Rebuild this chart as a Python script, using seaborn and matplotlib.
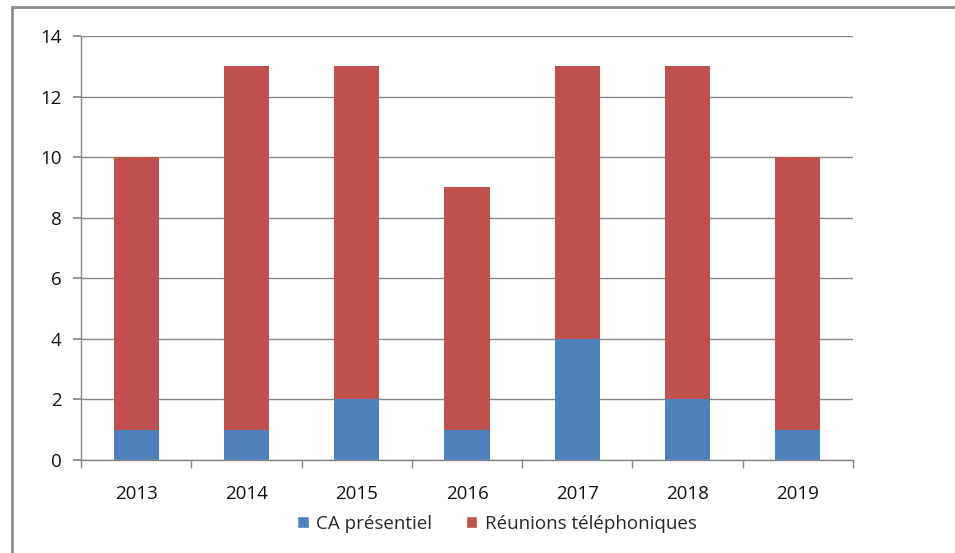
import matplotlib.pyplot as plt
import numpy as np
import pandas as pd
import seaborn as sns
from matplotlib.patches import Patch, Rectangle

YEARS = ["2013", "2014", "2015", "2016", "2017", "2018", "2019"]
CA_PRESENTIEL = [1, 1, 2, 1, 4, 2, 1]
REUNIONS_TEL = [9, 12, 11, 8, 9, 11, 9]
SERIES_NAMES = ["CA présentiel", "Réunions téléphoniques"]

BLUE = "#4F81BD"
RED = "#C0504D"
GRID = "#868686"


def main() -> None:
    sns.set_theme(style="white")
    plt.rcParams["font.family"] = ["Open Sans", "DejaVu Sans"]

    df = pd.DataFrame({"year": YEARS, "ca": CA_PRESENTIEL, "tel": REUNIONS_TEL})
    df["total"] = df["ca"] + df["tel"]

    fig = plt.figure(figsize=(9.55, 5.53), dpi=100)
    ax = fig.add_axes([81 / 955, 1 - 460 / 553, (853 - 81) / 955, (460 - 36) / 553])

    # stacked: full height in red, blue drawn over the bottom
    sns.barplot(data=df, x="year", y="total", color=RED, saturation=1, width=0.41,
                linewidth=0, ax=ax)
    sns.barplot(data=df, x="year", y="ca", color=BLUE, saturation=1, width=0.41,
                linewidth=0, ax=ax)

    ax.set_xlim(-0.5, len(YEARS) - 0.5)
    ax.set_ylim(0, 14)
    ax.set_yticks(np.arange(0, 15, 2))
    ax.set_xlabel("")
    ax.set_ylabel("")
    ax.yaxis.grid(True, color=GRID, linewidth=1)
    ax.set_axisbelow(True)

    for side in ("top", "right"):
        ax.spines[side].set_visible(False)
    for side in ("left", "bottom"):
        ax.spines[side].set_color(GRID)
        ax.spines[side].set_linewidth(1)

    ax.tick_params(axis="y", which="major", left=True, length=6, color=GRID,
                   labelsize=13.5, pad=8, labelcolor="#111111")
    ax.tick_params(axis="x", which="major", bottom=False, labelsize=13.5, pad=12,
                   labelcolor="#111111")
    ax.set_xticks(np.arange(-0.5, len(YEARS), 1), minor=True)
    ax.tick_params(axis="x", which="minor", bottom=True, length=6, color=GRID)

    handles = [Patch(facecolor=BLUE), Patch(facecolor=RED)]
    fig.legend(handles, SERIES_NAMES, loc="center", bbox_to_anchor=(497 / 955, 1 - 524 / 553),
               ncol=2, frameon=False, fontsize=13.5, handlelength=0.6, handleheight=0.6,
               columnspacing=1.8, handletextpad=0.4)

    # chart frame, only the top-left corner is visible
    fig.patches.append(Rectangle((12 / 955, -0.1), 1.2, 1 - 7 / 553 + 0.1,
                                 transform=fig.transFigure, fill=False,
                                 edgecolor="#8c8c8c", linewidth=2))

    fig.savefig("out.png", dpi=100)
    plt.close(fig)


if __name__ == "__main__":
    main()
